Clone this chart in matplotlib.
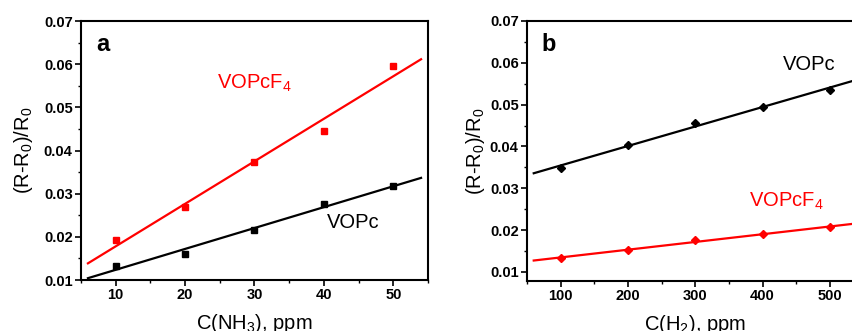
import numpy as np
import matplotlib
matplotlib.use('Agg')
import matplotlib.pyplot as plt
from matplotlib.ticker import MultipleLocator

plt.rcParams['font.family'] = ['Liberation Sans', 'DejaVu Sans']
plt.rcParams['mathtext.fontset'] = 'custom'
plt.rcParams['mathtext.rm'] = 'Liberation Sans'
plt.rcParams['mathtext.it'] = 'Liberation Sans:italic'
plt.rcParams['mathtext.bf'] = 'Liberation Sans:bold'

# Panel a: NH3
nh3_ppm = [10, 20, 30, 40, 50]
nh3_vopcf4 = [0.0192, 0.0268, 0.0374, 0.0445, 0.0596]
nh3_vopc = [0.0133, 0.0161, 0.0215, 0.0275, 0.0318]

# Panel b: H2
h2_ppm = [100, 200, 300, 400, 500]
h2_vopc = [0.0348, 0.0403, 0.0457, 0.0495, 0.0535]
h2_vopcf4 = [0.0133, 0.0152, 0.0175, 0.0191, 0.0206]

RED = '#ff0000'
W, H = 853, 331

fig = plt.figure(figsize=(W / 100, H / 100), dpi=100)
ax1 = fig.add_axes([81 / W, (H - 280) / H, (428 - 81) / W, (280 - 21) / H])
ax2 = fig.add_axes([527 / W, (H - 281) / H, 336.5 / W, (281 - 21) / H])


def fit_line(ax, x, y, x0, x1, color):
    k, b = np.polyfit(x, y, 1)
    xs = np.array([x0, x1])
    ax.plot(xs, k * xs + b, color=color, lw=1.6, zorder=2)


def style(ax):
    for s in ax.spines.values():
        s.set_linewidth(1.5)
    ax.tick_params(which='major', direction='out', length=4, width=1.2,
                   labelsize=10.5, pad=2)
    ax.tick_params(which='minor', direction='out', length=2, width=1.0)
    for lab in ax.get_xticklabels() + ax.get_yticklabels():
        lab.set_fontweight('bold')


# panel a
ax1.plot(nh3_ppm, nh3_vopcf4, 's', color=RED, ms=4.5, zorder=3)
ax1.plot(nh3_ppm, nh3_vopc, 's', color='black', ms=4.5, zorder=3)
fit_line(ax1, nh3_ppm, nh3_vopcf4, 6, 54, RED)
fit_line(ax1, nh3_ppm, nh3_vopc, 6, 54, 'black')
ax1.set_xlim(5, 55)
ax1.set_ylim(0.01, 0.07)
ax1.xaxis.set_major_locator(MultipleLocator(10))
ax1.xaxis.set_minor_locator(MultipleLocator(5))
ax1.yaxis.set_major_locator(MultipleLocator(0.01))
ax1.yaxis.set_minor_locator(MultipleLocator(0.005))
ax1.set_xticks([10, 20, 30, 40, 50])
ax1.set_xlabel(r'C(NH$_3$), ppm', fontsize=14.5, labelpad=7)
ax1.set_ylabel(r'(R-R$_0$)/R$_0$', fontsize=14.5, labelpad=6)
ax1.text(7.2, 0.0631, 'a', fontsize=17, fontweight='bold')
ax1.text(24.6, 0.0543, r'VOPcF$_4$', fontsize=14.5, color=RED)
ax1.text(40.4, 0.0220, 'VOPc', fontsize=14.5, color='black')
style(ax1)

# panel b
ax2.plot(h2_ppm, h2_vopc, 'D', color='black', ms=4.5, zorder=3)
ax2.plot(h2_ppm, h2_vopcf4, 'D', color=RED, ms=4.5, zorder=3)
fit_line(ax2, h2_ppm, h2_vopc, 60, 550, 'black')
fit_line(ax2, h2_ppm, h2_vopcf4, 60, 550, RED)
ax2.set_xlim(50, 550)
ax2.set_ylim(0.0078, 0.07)
ax2.xaxis.set_major_locator(MultipleLocator(100))
ax2.xaxis.set_minor_locator(MultipleLocator(50))
ax2.yaxis.set_major_locator(MultipleLocator(0.01))
ax2.yaxis.set_minor_locator(MultipleLocator(0.005))
ax2.set_xticks([100, 200, 300, 400, 500])
ax2.set_yticks([0.01, 0.02, 0.03, 0.04, 0.05, 0.06, 0.07])
ax2.set_xlabel(r'C(H$_2$), ppm', fontsize=14.5, labelpad=7)
ax2.set_ylabel(r'(R-R$_0$)/R$_0$', fontsize=14.5, labelpad=2)
ax2.text(71, 0.0628, 'b', fontsize=17, fontweight='bold')
ax2.text(430, 0.0583, 'VOPc', fontsize=14.5, color='black')
ax2.text(380, 0.0255, r'VOPcF$_4$', fontsize=14.5, color=RED)
style(ax2)

fig.savefig('out.png', dpi=100)
